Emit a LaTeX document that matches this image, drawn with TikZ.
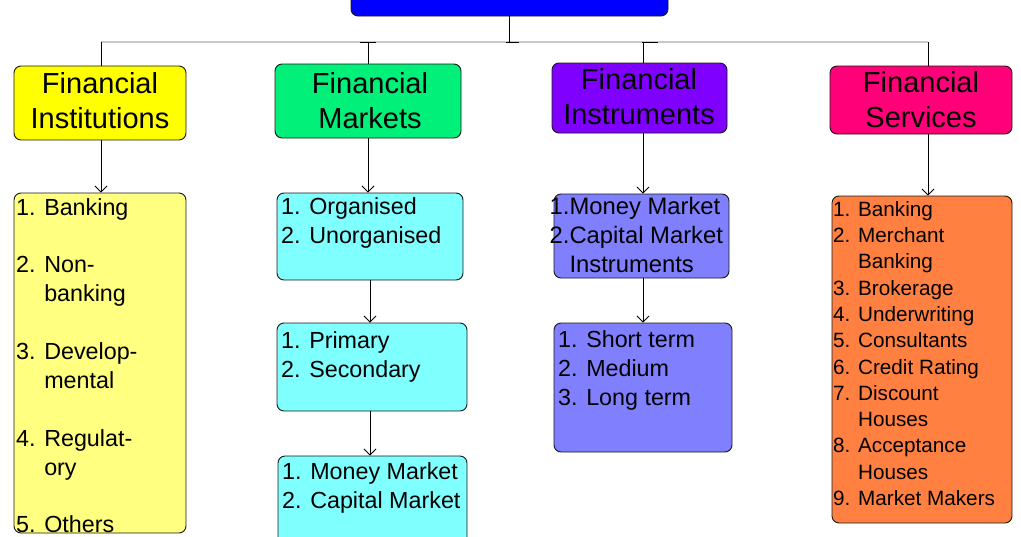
\documentclass[tikz,border=0pt]{standalone}
\usepackage{fontspec}
\setmainfont{Liberation Sans}
\usetikzlibrary{arrows.meta}
\definecolor{topblue}{HTML}{0000FF}
\definecolor{fiyel}{HTML}{FFFF00}
\definecolor{fmgrn}{HTML}{00F07A}
\definecolor{fipur}{HTML}{8000FF}
\definecolor{fspnk}{HTML}{FF0078}
\definecolor{ltyel}{HTML}{FFFF80}
\definecolor{ltcyn}{HTML}{80FFFF}
\definecolor{ltblu}{HTML}{8080FF}
\definecolor{ltorg}{HTML}{FF8040}
\definecolor{busgray}{HTML}{C8C8C8}
\begin{document}
\begin{tikzpicture}[x=1pt,y=-1pt,
  box/.style={draw=black!90, rounded corners=7pt, line width=0.9pt, inner sep=0pt},
  headtxt/.style={inner sep=0pt, align=center, font=\fontsize{29}{35}\selectfont},
  listtxt/.style={inner sep=0pt, anchor=north west, align=left, font=\fontsize{23.3}{29}\selectfont},
  stem/.style={line width=0.8pt, black},
  busline/.style={line width=1.6pt, busgray},
  arr/.style={line width=0.8pt, black, -{Straight Barb[length=6pt,width=12pt]}}
]
\useasboundingbox (0,0) rectangle (1021,536);

% top box (cut off by the page)
\node[box, fill=topblue, minimum width=317pt, minimum height=56pt] (top) at (509.5,-12) {};

% headings
\node[box, fill=fiyel, minimum width=172pt, minimum height=74pt] (fi) at (100,103) {};
\node[box, fill=fmgrn, minimum width=186pt, minimum height=74pt] (fm) at (368,101) {};
\node[box, fill=fipur, minimum width=175pt, minimum height=70pt] (fn) at (639.5,98) {};
\node[box, fill=fspnk, minimum width=182pt, minimum height=68pt] (fs) at (921,100) {};

\node[headtxt] (fit) at (100,100.5) {Financial\\Institutions};
\node[headtxt] (fmt) at (370,100.5) {Financial\\Markets};
\node[headtxt] (fnt) at (639,97) {Financial\\Instruments};
\node[headtxt] (fst) at (921,99.5) {Financial\\Services};

% lists
\node[box, fill=ltyel, minimum width=172pt, minimum height=340pt] (fil) at (100,363) {};
\node[box, fill=ltcyn, minimum width=186pt, minimum height=87pt] (fml1) at (370,236.5) {};
\node[box, fill=ltcyn, minimum width=190pt, minimum height=88pt] (fml2) at (372,367) {};
\node[box, fill=ltcyn, minimum width=189pt, minimum height=100pt] (fml3) at (372.5,506) {};
\node[box, fill=ltblu, minimum width=175pt, minimum height=84pt] (fnl1) at (641.5,236) {};
\node[box, fill=ltblu, minimum width=178pt, minimum height=129pt] (fnl2) at (643,387.5) {};
\node[box, fill=ltorg, minimum width=180pt, minimum height=327pt] (fsl) at (922,359.5) {};

\node[listtxt] (filt) at (16,198) {1. Banking\\[28.7pt]2. Non-\\\hphantom{2. }banking\\[28.7pt]3. Develop-\\\hphantom{3. }mental\\[28.7pt]4. Regulat-\\\hphantom{4. }ory\\[28.7pt]5. Others};
\node[listtxt] (fml1t) at (281,197) {1. Organised\\2. Unorganised};
\node[listtxt] (fml2t) at (281,331) {1. Primary\\2. Secondary};
\node[listtxt] (fml3t) at (282,462) {1. Money Market\\2. Capital Market};
\node[listtxt, font=\fontsize{23.8}{29}\selectfont] (fnl1t) at (549.5,197) {1.Money Market\\2.Capital Market\\\hphantom{2.}Instruments};
\node[listtxt] (fnl2t) at (558,330) {1. Short term\\2. Medium\\3. Long term};
\node[listtxt, font=\fontsize{20.7}{26.3}\selectfont] (fslt) at (833,201) {1. Banking\\2. Merchant\\\hphantom{2. }Banking\\3. Brokerage\\4. Underwriting\\5. Consultants\\6. Credit Rating\\7. Discount\\\hphantom{7. }Houses\\8. Acceptance\\\hphantom{8. }Houses\\9. Market Makers};

% tree connectors
\coordinate (bus) at (0,42);
\draw[busline] ([xshift=1pt]fi.north |- bus) -- ([xshift=7pt]fs.north |- bus);
\draw[stem] ([xshift=-0.5pt]top.south) -- ([xshift=-0.5pt]top.south |- bus);
\draw[stem] ([xshift=-4pt]top.south |- bus) -- ([xshift=9pt]top.south |- bus);
\draw[stem] ([xshift=1pt]fi.north |- bus) -- ([xshift=1pt]fi.north);
\draw[stem] (fm.north |- bus) -- (fm.north);
\draw[stem] ([xshift=-8pt]fm.north |- bus) -- ([xshift=8pt]fm.north |- bus);
\draw[stem] ([xshift=3.5pt]fn.north |- bus) -- ([xshift=3.5pt]fn.north);
\draw[stem] ([xshift=2pt]fn.north |- bus) -- ([xshift=18pt]fn.north |- bus);
\draw[stem] ([xshift=7pt]fs.north |- bus) -- ([xshift=7pt]fs.north);

% arrows
\draw[arr] ([xshift=1pt]fi.south) -- ([xshift=1pt]fi.south |- fil.north);
\draw[arr] (fm.south) -- (fm.south |- fml1.north);
\draw[arr] ([xshift=2pt]fm.south |- fml1.south) -- ([xshift=2pt]fm.south |- fml2.north);
\draw[arr] ([xshift=2pt]fm.south |- fml2.south) -- ([xshift=2pt]fm.south |- fml3.north);
\draw[arr] ([xshift=3.5pt]fn.south) -- ([xshift=3.5pt]fn.south |- fnl1.north);
\draw[arr] ([xshift=3.5pt]fn.south |- fnl1.south) -- ([xshift=3.5pt]fn.south |- fnl2.north);
\draw[arr] ([xshift=7pt]fs.south) -- ([xshift=7pt]fs.south |- fsl.north);
\end{tikzpicture}
\end{document}
